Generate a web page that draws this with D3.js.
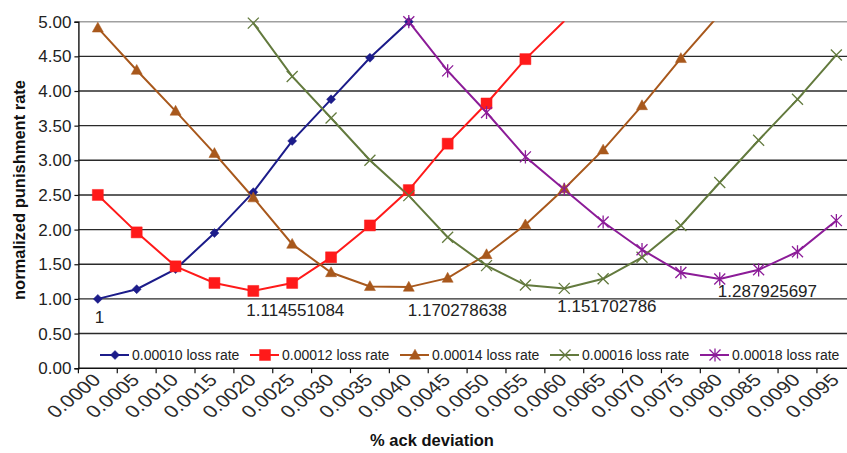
<!DOCTYPE html>
<html>
<head>
<meta charset="utf-8">
<script src="https://cdn.jsdelivr.net/npm/d3@7"></script>
<style>
  html, body { margin: 0; padding: 0; background: #fff; }
  svg { display: block; font-family: "Liberation Sans", Arial, sans-serif; }
</style>
</head>
<body>
<svg id="chart" width="847" height="453"></svg>
<script>
// Categories along the x axis (% ack deviation)
const categories = ["0.0000","0.0005","0.0010","0.0015","0.0020","0.0025","0.0030","0.0035","0.0040","0.0045",
                    "0.0050","0.0055","0.0060","0.0065","0.0070","0.0075","0.0080","0.0085","0.0090","0.0095"];

// Normalized punishment rate for each loss rate (null = above the axis range, not plotted)
const loss00010 = [1.00, 1.14, 1.43, 1.95, 2.54, 3.28, 3.88, 4.48, 5.00, null,
                   null, null, null, null, null, null, null, null, null, null];
const loss00012 = [2.50, 1.96, 1.47, 1.23, 1.114551084, 1.23, 1.60, 2.06, 2.57, 3.24,
                   3.82, 4.46, 5.01, null, null, null, null, null, null, null];
const loss00014 = [4.91, 4.30, 3.71, 3.10, 2.46, 1.79, 1.38, 1.18, 1.170278638, 1.30,
                   1.64, 2.07, 2.59, 3.15, 3.79, 4.47, 5.11, null, null, null];
const loss00016 = [null, null, null, null, 4.98, 4.21, 3.61, 3.00, 2.49, 1.89,
                   1.48, 1.20, 1.151702786, 1.29, 1.60, 2.06, 2.68, 3.29, 3.88, 4.52];
const loss00018 = [null, null, null, null, null, null, null, null, 5.00, 4.29,
                   3.69, 3.05, 2.58, 2.11, 1.71, 1.38, 1.287925697, 1.42, 1.68, 2.13];

const seriesNames = ["0.00010 loss rate","0.00012 loss rate","0.00014 loss rate","0.00016 loss rate","0.00018 loss rate"];
const yTicks = [0, 0.5, 1, 1.5, 2, 2.5, 3, 3.5, 4, 4.5, 5];

// Minimum of each curve, shown as a data label: [series index, category, value text]
const minLabels = [
  [0, "0.0000", "1"],
  [1, "0.0020", "1.114551084"],
  [2, "0.0040", "1.170278638"],
  [3, "0.0060", "1.151702786"],
  [4, "0.0080", "1.287925697"]
];

// Styling
const colors = ["#1c1c8a", "#ff1a1a", "#a8581c", "#637a3e", "#8c1c98"];
const markerKinds = ["diamond", "square", "triangle", "x", "star"];
const labelOffsets = [[-3, 24], [-7, 25], [-1, 29], [-7, 24], [-2, 18]]; // dx, dy of min labels

const svg = d3.select("#chart");
const plot = { left: 78.4, right: 855.8, top: 21.7, bottom: 368.2 };

const x = d3.scaleBand().domain(categories).range([plot.left, plot.right]).padding(0);
const cx = c => x(c) + x.bandwidth() / 2;
const y = d3.scaleLinear().domain([0, 5]).range([plot.bottom, plot.top]);

// Horizontal gridlines
svg.append("g")
  .selectAll("line")
  .data(yTicks.filter(t => t > 0 && t < 5))
  .join("line")
  .attr("x1", plot.left).attr("x2", plot.right)
  .attr("y1", d => y(d)).attr("y2", d => y(d))
  .attr("stroke", "#2a2a2a").attr("stroke-width", 1.4);

// Plot area border (top edge visible)
svg.append("line")
  .attr("x1", plot.left).attr("x2", plot.right)
  .attr("y1", y(5)).attr("y2", y(5))
  .attr("stroke", "#a0a0a0").attr("stroke-width", 1.4);

// Y axis
const yAxis = d3.axisLeft(y).tickValues(yTicks).tickFormat(d3.format(".2f")).tickSize(4).tickPadding(3);
const gy = svg.append("g").attr("transform", `translate(${plot.left},0)`).call(yAxis);
gy.select(".domain").attr("stroke", "#111").attr("stroke-width", 1.4);
gy.selectAll(".tick line").attr("stroke", "#111").attr("stroke-width", 1.2);
gy.selectAll(".tick text").attr("font-size", 17).attr("fill", "#222")
  .attr("font-family", "'Liberation Sans', Arial, sans-serif");

// X axis: ticks between categories, slanted labels
const gx = svg.append("g").attr("transform", `translate(0,${plot.bottom})`);
gx.append("line").attr("x1", plot.left).attr("x2", plot.right)
  .attr("stroke", "#111").attr("stroke-width", 1.4);
gx.selectAll("line.tk").data(categories).join("line").attr("class", "tk")
  .attr("x1", d => x(d)).attr("x2", d => x(d)).attr("y1", 0).attr("y2", 5)
  .attr("stroke", "#111").attr("stroke-width", 1.2);
gx.selectAll("text").data(categories).join("text")
  .attr("transform", d => `translate(${cx(d) + 4},${13}) scale(1.22,1) rotate(-45)`)
  .attr("text-anchor", "end")
  .attr("font-size", 17.5).attr("fill", "#2a2a2a")
  .text(d => d);

// Axis titles
svg.append("text")
  .attr("transform", `translate(25,190) rotate(-90)`)
  .attr("text-anchor", "middle").attr("font-weight", "bold").attr("font-size", 16.5).attr("fill", "#111")
  .text("normalized punishment rate");
svg.append("text")
  .attr("x", 432).attr("y", 446)
  .attr("text-anchor", "middle").attr("font-weight", "bold").attr("font-size", 16.5).attr("fill", "#111")
  .text("% ack deviation");

// Clip to the plot area
svg.append("defs").append("clipPath").attr("id", "plotClip")
  .append("rect").attr("x", plot.left).attr("y", plot.top - 0.5)
  .attr("width", plot.right - plot.left).attr("height", plot.bottom - plot.top + 1);

function markerPath(kind, s) {
  const h = s / 2;
  switch (kind) {
    case "diamond": return `M0,${-h}L${h},0L0,${h}L${-h},0Z`;
    case "square": return `M${-h},${-h}H${h}V${h}H${-h}Z`;
    case "triangle": return `M0,${-h * 1.05}L${h},${h * 0.75}L${-h},${h * 0.75}Z`;
    case "x": return `M${-h},${-h}L${h},${h}M${-h},${h}L${h},${-h}`;
    case "star": return `M${-h},${-h}L${h},${h}M${-h},${h}L${h},${-h}M0,${-h * 1.2}V${h * 1.2}`;
  }
}
const markerSize = [9, 11, 11, 11, 11];
const filled = k => k === "diamond" || k === "square" || k === "triangle";

const allSeries = [loss00010, loss00012, loss00014, loss00016, loss00018];
const line = d3.line()
  .defined(d => d.v !== null)
  .x(d => cx(d.c)).y(d => y(d.v));

const gSeries = svg.append("g").attr("clip-path", "url(#plotClip)");
allSeries.forEach((vals, i) => {
  const pts = categories.map((c, j) => ({ c, v: vals[j] }));
  gSeries.append("path").datum(pts)
    .attr("d", line).attr("fill", "none")
    .attr("stroke", colors[i]).attr("stroke-width", 2);
});
allSeries.forEach((vals, i) => {
  const pts = categories.map((c, j) => ({ c, v: vals[j] })).filter(d => d.v !== null && d.v <= 5);
  const k = markerKinds[i];
  svg.append("g").selectAll("path").data(pts).join("path")
    .attr("transform", d => `translate(${cx(d.c)},${y(d.v)})`)
    .attr("d", markerPath(k, markerSize[i]))
    .attr("fill", filled(k) ? colors[i] : "none")
    .attr("stroke", colors[i])
    .attr("stroke-width", filled(k) ? 0.5 : 1.3);
});

// Minimum labels
svg.append("g").selectAll("text").data(minLabels).join("text")
  .attr("x", (d, i) => cx(d[1]) + labelOffsets[i][0])
  .attr("y", (d, i) => y(allSeries[d[0]][categories.indexOf(d[1])]) + labelOffsets[i][1])
  .attr("font-size", 17).attr("fill", "#222")
  .text(d => d[2]);

// Legend
const legend = svg.append("g");
seriesNames.forEach((name, i) => {
  const tx = 132 + i * 150, ly = 355;
  const g = legend.append("g");
  g.append("line").attr("x1", tx - 32).attr("x2", tx - 3).attr("y1", ly).attr("y2", ly)
    .attr("stroke", colors[i]).attr("stroke-width", 2);
  g.append("path").attr("transform", `translate(${tx - 17},${ly})`)
    .attr("d", markerPath(markerKinds[i], markerSize[i]))
    .attr("fill", filled(markerKinds[i]) ? colors[i] : "none")
    .attr("stroke", colors[i]).attr("stroke-width", filled(markerKinds[i]) ? 0.5 : 1.3);
  g.append("text").attr("x", tx).attr("y", ly + 5).attr("font-size", 14).attr("fill", "#222")
    .text(name);
});
</script>
</body>
</html>
